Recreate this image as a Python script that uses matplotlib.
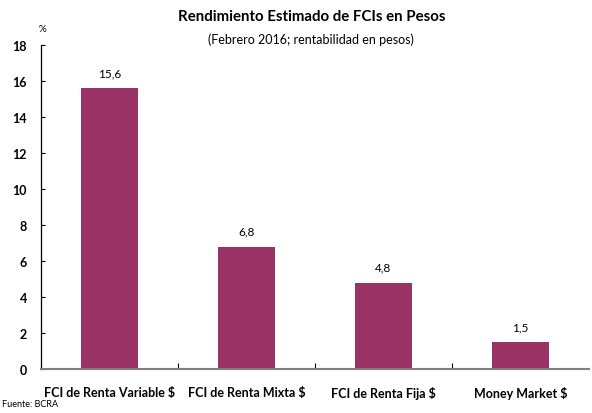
import matplotlib
matplotlib.use("Agg")
from matplotlib import pyplot as plt

categories = ["FCI de Renta Variable $", "FCI de Renta Mixta $", "FCI de Renta Fija $", "Money Market $"]
values = [15.6, 6.8, 4.8, 1.5]
value_labels = ["15,6", "6,8", "4,8", "1,5"]
y_ticks = [0, 2, 4, 6, 8, 10, 12, 14, 16, 18]

plt.rcParams['font.family'] = ['Lato', 'DejaVu Sans']

fig = plt.figure(figsize=(5.92, 4.14), dpi=100)
ax = fig.add_axes([0.0693, 0.1063, 0.9257, 0.7826])

x = list(range(len(categories)))
ax.bar(x, values, width=0.41, color="#993366", zorder=2)
for xi, v, lab in zip(x, values, value_labels):
    ax.text(xi, v + 0.55, lab, ha="center", va="bottom", fontsize=8.5)

ax.set_xlim(-0.5, len(categories) - 0.5)
ax.set_ylim(0, 18)
ax.set_yticks(y_ticks)
ax.set_yticklabels([str(t) for t in y_ticks], fontsize=9, fontweight="bold")

# category labels centred, ticks at the boundaries
ax.set_xticks([i + 0.5 for i in range(len(categories) - 1)])
ax.set_xticklabels([])
ax.set_xticks(x, minor=True)
ax.set_xticklabels(categories, minor=True, fontsize=9, fontweight="bold")
ax.tick_params(axis="x", which="minor", length=0, pad=12)
ax.tick_params(axis="x", which="major", direction="in", length=4, width=0.8)
ax.tick_params(axis="y", direction="in", length=3, width=0.8, pad=10)

for s in ("top", "right"):
    ax.spines[s].set_visible(False)
ax.spines["left"].set_linewidth(0.9)
ax.spines["bottom"].set_color("#808080")
ax.spines["bottom"].set_linewidth(1.5)

fig.text(0.527, 0.958, "Rendimiento Estimado de FCIs en Pesos", ha="center", va="center",
         fontsize=10.8, fontweight="bold")
fig.text(0.525, 0.903, "(Febrero 2016; rentabilidad en pesos)", ha="center", va="center", fontsize=9)
fig.text(0.072, 0.928, "%", ha="center", va="center", fontsize=7)
fig.text(0.003, 0.012, "Fuente: BCRA", ha="left", va="bottom", fontsize=6.5)

fig.savefig("out.png", dpi=100)
